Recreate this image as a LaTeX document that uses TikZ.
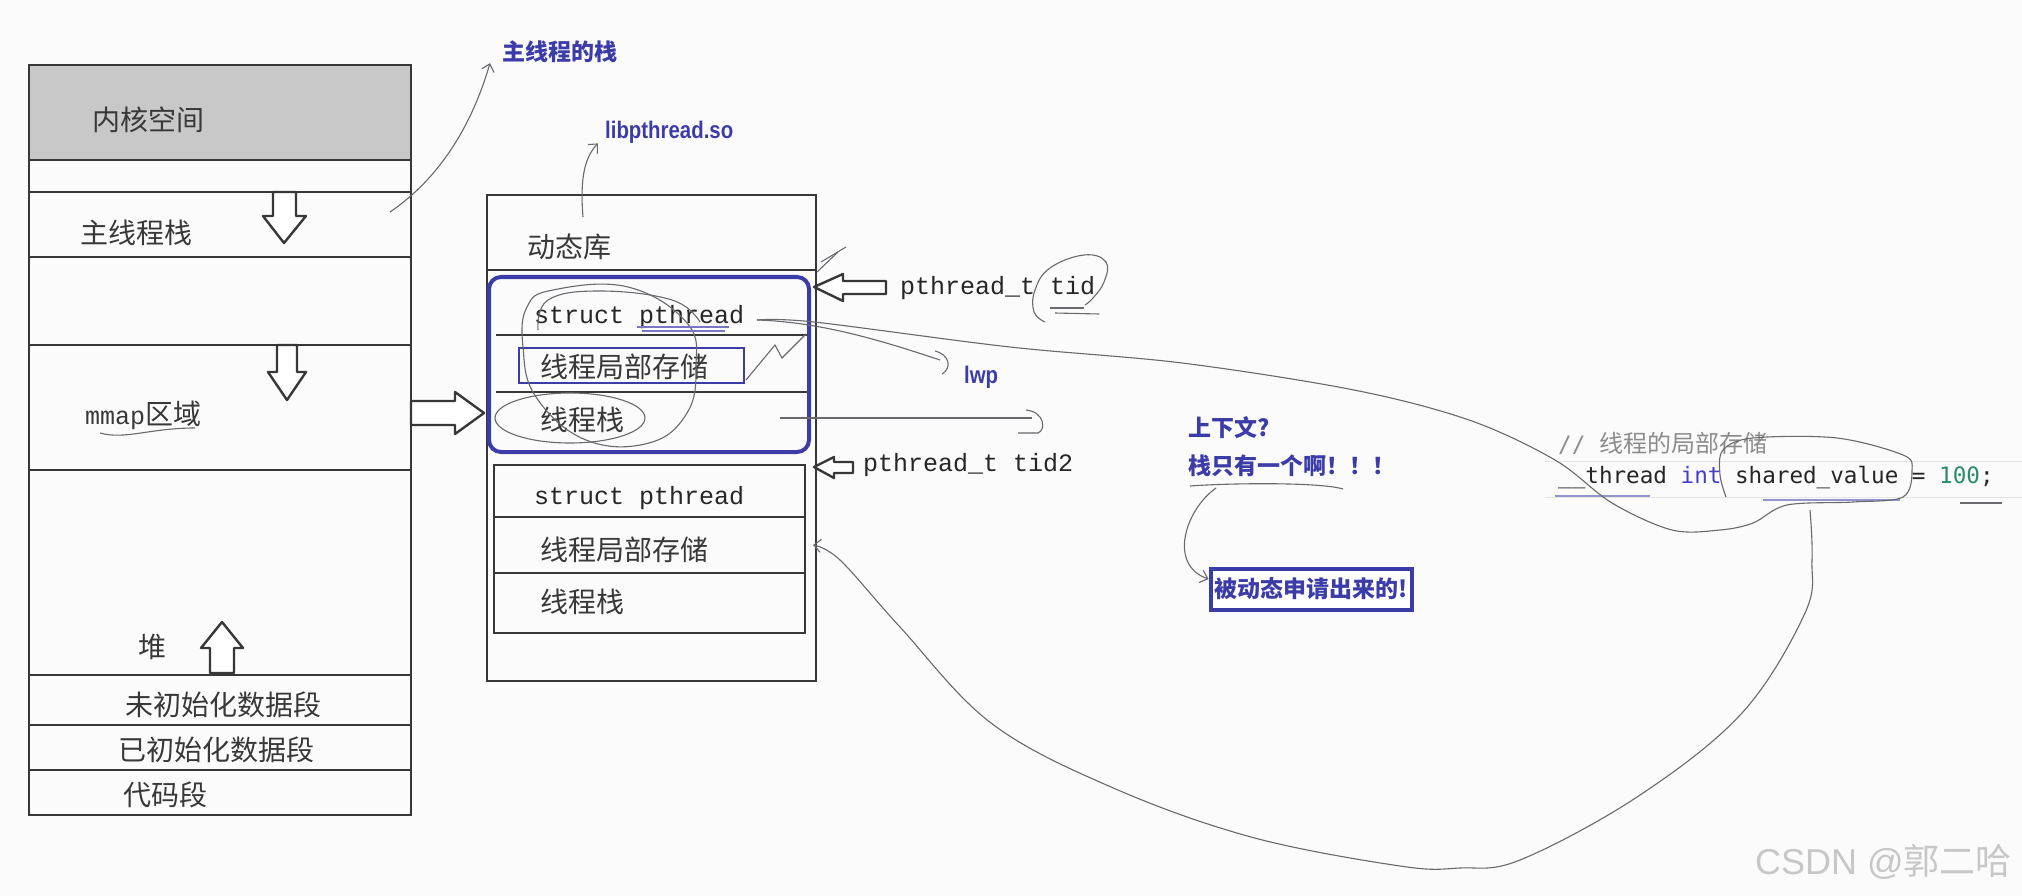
\documentclass[tikz,border=0pt]{standalone}
\usepackage{fontspec}
\setmainfont{Liberation Sans}
\newfontfamily\cjk{Noto Sans CJK SC}
\newfontfamily\mono{Liberation Mono}
\newfontfamily\code{DejaVu Sans Mono}
\usetikzlibrary{arrows.meta}
\definecolor{bgwhite}{RGB}{251,251,252}
\definecolor{linegray}{RGB}{55,55,55}
\definecolor{kernelgray}{RGB}{200,200,200}
\definecolor{penblue}{RGB}{60,60,168}
\definecolor{inkgray}{RGB}{105,105,110}
\definecolor{codeblue}{RGB}{70,60,200}
\definecolor{codegreen}{RGB}{40,140,105}
\definecolor{commentgray}{RGB}{140,140,140}
\tikzset{
  lbl/.style={anchor=west,inner sep=0pt,text=black!78,font=\cjk\fontsize{28}{30}\selectfont},
  mlbl/.style={anchor=west,inner sep=0pt,text=black!85,font=\mono\fontsize{25}{28}\selectfont},
  note/.style={anchor=west,inner sep=0pt,text=penblue,font=\cjk\bfseries\fontsize{23}{25}\selectfont},
  pen/.style={draw=inkgray,line width=1.1pt},
  barb/.style={-{Straight Barb[length=7pt,width=13pt]}},
  frame/.style={draw=linegray,line width=2.6pt},
  divider/.style={draw=linegray,line width=2.2pt},
  hollow/.style={draw=linegray,line width=2.4pt,fill=white,line join=round}
}
\begin{document}
\begin{tikzpicture}[x=1pt,y=-1pt]
\useasboundingbox (0,0) rectangle (2022,896);
\fill[bgwhite] (0,0) rectangle (2022,896);

% process address space
\fill[kernelgray] (29,65) rectangle (411,160);
\draw[frame] (29,65) rectangle (411,815);
\foreach \y in {160,192,257,345,470,675,725,770}
  \draw[divider] (29,\y) -- (411,\y);
\node[lbl] (kernel) at (92,120) {内核空间};
\node[lbl] (mainstack) at (80,233) {主线程栈};
\node[lbl] (mmap) at (85,415) {{\mono\fontsize{25}{28}\selectfont mmap}区域};
\node[lbl] (heap) at (138,647) {堆};
\node[lbl] (bss) at (125,705) {未初始化数据段};
\node[lbl] (data) at (118,750) {已初始化数据段};
\node[lbl] (text) at (123,795) {代码段};
\draw[hollow] (273,192) -- (296,192) -- (296,216) -- (306,216) -- (284,243) -- (263,216) -- (273,216) -- cycle;
\draw[hollow] (277,345) -- (297,345) -- (297,372) -- (306,372) -- (287,400) -- (268,372) -- (277,372) -- cycle;
\draw[hollow] (222,622) -- (243,648) -- (234,648) -- (234,673) -- (210,673) -- (210,648) -- (201,648) -- cycle;
\draw[hollow] (411,401) -- (455,401) -- (455,392) -- (484,413) -- (455,434) -- (455,425) -- (411,425) -- cycle;

% mmap area / shared library
\draw[frame] (487,195) rectangle (816,681);
\draw[divider] (487,270) -- (816,270);
\draw[divider] (496,335) -- (809,335);
\draw[divider] (496,392) -- (809,392);
\draw[draw=penblue,line width=4pt,rounded corners=12pt] (489,277) rectangle (809,452);
\draw[draw=penblue,line width=2.5pt] (519,348) rectangle (744,383);
\draw[frame] (494,465) rectangle (805,633);
\draw[divider] (494,517) -- (805,517);
\draw[divider] (494,573) -- (805,573);
\node[lbl] (dynlib) at (527,247) {动态库};
\node[mlbl] (sp1) at (534,317) {struct pthread};
\node[lbl] (tls1) at (540,367) {线程局部存储};
\node[lbl] (stk1) at (540,420) {线程栈};
\node[mlbl] (sp2) at (534,498) {struct pthread};
\node[lbl] (tls2) at (540,550) {线程局部存储};
\node[lbl] (stk2) at (540,602) {线程栈};
\draw[hollow] (814,287) -- (843,274) -- (843,281) -- (886,281) -- (886,294) -- (843,294) -- (843,301) -- cycle;
\draw[hollow] (814,467) -- (834,457) -- (834,462) -- (853,462) -- (853,473) -- (834,473) -- (834,478) -- cycle;
\node[mlbl] (tid) at (900,288) {pthread\_t tid};
\node[mlbl] (tid2) at (863,465) {pthread\_t tid2};

% blue notes
\node[note] (mainnote) at (502,52) {主线程的栈};
\node[anchor=west,inner sep=0pt,text=penblue,xscale=0.85,font=\bfseries\fontsize{24}{26}\selectfont] (libnote) at (605,132) {libpthread.so};
\node[anchor=west,inner sep=0pt,text=penblue,xscale=0.85,font=\bfseries\fontsize{24}{26}\selectfont] (lwp) at (964,377) {lwp};
\node[note] (ctx) at (1188,428) {上下文?};
\node[note] (onestack) at (1188,466) {栈只有一个啊！！！};
\node[note,anchor=center,draw=penblue,line width=4pt,fill=white,minimum width=201pt,minimum height=41pt] (dynbox) at (1311,589) {被动态申请出来的!};

% code
\draw[black!10,line width=1pt] (1545,461) -- (2022,461);
\draw[black!10,line width=1pt] (1545,497) -- (2022,497);
\node[anchor=west,inner sep=0pt,text=commentgray,font=\code\fontsize{22.6}{25}\selectfont] (comment) at (1558,443) {// {\cjk\fontsize{24}{26}\selectfont 线程的局部存储}};
\node[anchor=west,inner sep=0pt,text=black!85,font=\code\fontsize{22.6}{25}\selectfont] (codeline) at (1558,478) {\_\_thread {\color{codeblue}int} shared\_value = {\color{codegreen}100};};
\draw[penblue!55,line width=2.5pt] (1555,496) -- (1650,496);
\draw[penblue!55,line width=2.5pt] (1763,500) -- (1900,500);
\draw[pen] (1960,503) -- (2002,503);

% pen marks
\coordinate (msEnd) at (390,212);
\coordinate (dynTop) at (583,217);
\coordinate (spEnd) at (757,320);
\coordinate (valBelow) at (1810,510);
\draw[pen,barb] (msEnd) .. controls (440,178) and (472,125) .. ([xshift=-12pt]mainnote.south west);
\draw[pen,barb] (dynTop) .. controls (580,180) and (584,158) .. ([xshift=-7pt]libnote.south west);
\draw[pen] (spEnd) .. controls (820,322) and (880,340) .. (940,360);
\draw[pen] (935,351) .. controls (950,355) and (952,368) .. (942,374);
\draw[pen] plot[smooth,tension=0.55] coordinates {(spEnd) (814,322) (1010,347) (1182,363) (1354,390) (1469,420) (1555,460) (1612,503) (1672,530) (1720,530) (1753,523) (1787,505) (1853,502) (1903,497) (1912,470) (1903,455) (1837,438) (1753,438) (1723,450) (1720,475) (1726,497)};
\draw[pen] (780,418) -- (1032,418);
\draw[pen] (1026,410) .. controls (1045,412) and (1046,430) .. (1038,433) -- (1018,433);
\draw[pen,barb] plot[smooth,tension=0.6] coordinates {(valBelow) (1812,560) (1805,613) (1742,713) (1637,797) (1520,860) (1460,868) (1400,866) (1251,837) (1111,787) (991,723) (900,627) (840,560) (813,545)};
\draw[pen] plot[smooth,tension=0.7] coordinates {(1045,322) (1034,312) (1035,290) (1050,268) (1084,255) (1106,262) (1104,282) (1093,298) (1085,305)};
\draw[pen] (1050,308) -- (1084,308);
\draw[pen] (1055,313) -- (1099,314);
\draw[pen] (817,272) -- (838,252);
\draw[pen] (821,262) -- (846,247);
\draw[pen] (1190,486) .. controls (1230,483) and (1320,482) .. (1343,489);
\draw[pen,barb] (1216,488) .. controls (1185,510) and (1168,565) .. ([yshift=10pt]dynbox.west);
\draw[pen] (570,418) ellipse [x radius=75,y radius=25];
\draw[pen] plot[smooth cycle,tension=0.7] coordinates {(553,290) (628,287) (687,323) (696,367) (687,413) (649,443) (586,440) (536,397) (523,347) (527,307)};
\draw[pen] plot[smooth,tension=0.7] coordinates {(538,330) (548,300) (600,291) (672,300) (700,322)};
\draw[penblue!70,line width=1.5pt] (637,327) -- (729,327);
\draw[penblue!70,line width=1.5pt] (642,331) -- (725,331);
\draw[pen] (746,380) -- (775,345) -- (782,358) -- (806,334);
\draw[pen] (100,433) .. controls (125,440) and (150,428) .. (195,428);

% watermark
\node[anchor=west,inner sep=0pt,text=black!22,font=\fontsize{36}{40}\selectfont] (mark) at (1755,862) {CSDN @{\cjk 郭二哈}};
\end{tikzpicture}
\end{document}
